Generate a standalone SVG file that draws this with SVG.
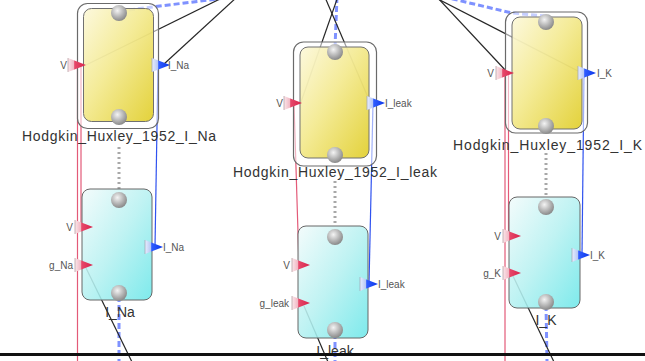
<svg xmlns="http://www.w3.org/2000/svg" xmlns:xlink="http://www.w3.org/1999/xlink" width="645" height="361" viewBox="0 0 645 361">
  <defs>
    <linearGradient id="gYellow" x1="0" y1="0" x2="1" y2="1">
      <stop offset="0" stop-color="#fcf8da"/>
      <stop offset="0.45" stop-color="#f3e98c"/>
      <stop offset="1" stop-color="#e0cd26"/>
    </linearGradient>
    <linearGradient id="gCyan" x1="0" y1="0" x2="1" y2="1">
      <stop offset="0" stop-color="#f2fbfb"/>
      <stop offset="0.5" stop-color="#b6f1f1"/>
      <stop offset="1" stop-color="#6ce7e9"/>
    </linearGradient>
    <radialGradient id="gBall" cx="0.4" cy="0.35" r="0.65">
      <stop offset="0" stop-color="#f4f4f4"/>
      <stop offset="0.6" stop-color="#b4b4b4"/>
      <stop offset="1" stop-color="#8a8a8a"/>
    </radialGradient>
    <linearGradient id="gPinRed" x1="0" y1="0" x2="1" y2="0">
      <stop offset="0" stop-color="#fbe6ea"/>
      <stop offset="0.32" stop-color="#f1b8c4"/>
      <stop offset="0.37" stop-color="#e6486a"/>
      <stop offset="1" stop-color="#d8224a"/>
    </linearGradient>
    <linearGradient id="gPinBlue" x1="0" y1="0" x2="1" y2="0">
      <stop offset="0" stop-color="#e8eeff"/>
      <stop offset="0.32" stop-color="#b8c8f4"/>
      <stop offset="0.37" stop-color="#2f5cff"/>
      <stop offset="1" stop-color="#0b36e8"/>
    </linearGradient>
    <g id="pin-red">
      <polygon points="0,-7 0,7 18,0" fill="url(#gPinRed)"/>
      <line x1="0" y1="-7" x2="0" y2="7" stroke="#b7a2a6" stroke-width="0.8"/>
    </g>
    <g id="pin-blue">
      <polygon points="0,-7 0,7 18,0" fill="url(#gPinBlue)"/>
      <line x1="0" y1="-7" x2="0" y2="7" stroke="#a2a8b8" stroke-width="0.8"/>
    </g>
  </defs>
  <style>
    .frame { fill: #ffffff; fill-opacity: 0.55; stroke: #6a6a6a; stroke-width: 1.2; }
    .yel { fill: url(#gYellow); fill-opacity: 0.9; stroke: #707070; stroke-width: 1; }
    .cyan { fill: url(#gCyan); fill-opacity: 0.88; stroke: #666; stroke-width: 1; }
    .ball { fill: url(#gBall); }
    .title { font-family: "Liberation Sans", Arial, sans-serif; font-size: 14px; fill: #333; }
    .pl { font-family: "Liberation Sans", Arial, sans-serif; font-size: 10px; fill: #555; }
    .end { text-anchor: end; }
    .mid { text-anchor: middle; }
    .red { stroke: #e35a78; stroke-width: 1.2; fill: none; }
    .blue { stroke: #2f52f0; stroke-width: 1.2; fill: none; }
    .black { stroke: #262626; stroke-width: 1.2; fill: none; }
    .enc { stroke: #7f92ff; stroke-width: 3; stroke-dasharray: 6 3; fill: none; }
    .dots { stroke: #a8a8a8; stroke-width: 3; stroke-dasharray: 2 3; fill: none; }
  </style>

  <rect width="645" height="361" fill="#ffffff"/>

  <g id="connectors">
    <!-- encapsulation (gray dotted) -->
    <line class="dots" x1="119" y1="147" x2="119" y2="190"/>
    <line class="dots" x1="335" y1="181" x2="335" y2="226"/>
    <line class="dots" x1="546" y1="153" x2="546" y2="197"/>
    <!-- blue dashed links -->
    <line class="enc" x1="120" y1="11" x2="225" y2="-2"/>
    <line class="enc" x1="335" y1="48" x2="337" y2="-3"/>
    <polyline class="enc" points="546,16 512,13 440,-4"/>
    <line class="enc" x1="119" y1="296" x2="119" y2="361"/>
    <line class="enc" x1="335" y1="333" x2="335" y2="361"/>
    <line class="enc" x1="546" y1="305" x2="547" y2="361"/>
    <!-- black links -->
    <line class="black" x1="86" y1="65" x2="226" y2="-4"/>
    <line class="black" x1="164" y1="64" x2="237" y2="-3"/>
    <line class="black" x1="301" y1="102" x2="338.5" y2="-5"/>
    <line class="black" x1="370" y1="102" x2="324" y2="-5"/>
    <line class="black" x1="507" y1="72" x2="436" y2="-4"/>
    <line class="black" x1="578" y1="71" x2="436" y2="-2"/>
    <line class="black" x1="86" y1="268" x2="132" y2="362"/>
    <line class="black" x1="304" y1="306" x2="328" y2="362"/>
    <line class="black" x1="513" y1="276" x2="554" y2="362"/>
    <!-- red links -->
    <line class="red" x1="77.5" y1="65" x2="77.5" y2="361"/>
    <line class="red" x1="81" y1="65" x2="81" y2="227"/>
    <line class="red" x1="294" y1="103" x2="299" y2="265"/>
    <line class="red" x1="505" y1="73" x2="505" y2="361"/>
    <line class="red" x1="508.5" y1="73" x2="508.5" y2="236"/>
    <!-- blue links -->
    <line class="blue" x1="158" y1="65" x2="155" y2="247"/>
    <line class="blue" x1="373" y1="103" x2="369" y2="284"/>
    <line class="blue" x1="584" y1="73" x2="582" y2="255"/>
  </g>

  <g id="hh-i-na">
    <rect class="frame" x="77.5" y="3.5" width="81" height="125" rx="10"/>
    <rect class="yel" x="83.5" y="8.5" width="70" height="113" rx="8"/>
    <circle class="ball" cx="119" cy="13" r="8"/>
    <circle class="ball" cx="119" cy="117" r="8"/>
    <use href="#pin-red" x="68" y="65"/>
    <use href="#pin-blue" x="152" y="65"/>
    <text class="pl end" x="67" y="68.5">V</text>
    <text class="pl" x="168" y="68.5">I_Na</text>
    <text class="title" x="22" y="141" textLength="194" lengthAdjust="spacing">Hodgkin_Huxley_1952_I_Na</text>
  </g>

  <g id="hh-i-leak">
    <rect class="frame" x="293.5" y="42" width="83" height="124" rx="10"/>
    <rect class="yel" x="300" y="47" width="69" height="111" rx="8"/>
    <circle class="ball" cx="335" cy="52" r="8"/>
    <circle class="ball" cx="335" cy="155" r="8"/>
    <use href="#pin-red" x="284" y="103"/>
    <use href="#pin-blue" x="367" y="103"/>
    <text class="pl end" x="283" y="106.5">V</text>
    <text class="pl" x="385" y="106.5">I_leak</text>
    <text class="title" x="233" y="177" textLength="204" lengthAdjust="spacing">Hodgkin_Huxley_1952_I_leak</text>
  </g>

  <g id="hh-i-k">
    <rect class="frame" x="505.5" y="12" width="82" height="121" rx="10"/>
    <rect class="yel" x="512" y="17" width="70" height="112" rx="8"/>
    <circle class="ball" cx="546" cy="22" r="8"/>
    <circle class="ball" cx="546" cy="126" r="8"/>
    <use href="#pin-red" x="496" y="73"/>
    <use href="#pin-blue" x="578" y="73"/>
    <text class="pl end" x="494" y="76.5">V</text>
    <text class="pl" x="597" y="76.5">I_K</text>
    <text class="title" x="453" y="150" textLength="189" lengthAdjust="spacing">Hodgkin_Huxley_1952_I_K</text>
  </g>

  <g id="i-na">
    <rect class="cyan" x="82" y="189" width="70" height="111" rx="8"/>
    <circle class="ball" cx="119" cy="200" r="8"/>
    <circle class="ball" cx="119" cy="293" r="8"/>
    <use href="#pin-red" x="75" y="227"/>
    <use href="#pin-red" x="75" y="265"/>
    <use href="#pin-blue" x="145" y="247"/>
    <text class="pl end" x="73" y="230.5">V</text>
    <text class="pl end" x="73" y="268.5">g_Na</text>
    <text class="pl" x="163" y="250.5">I_Na</text>
    <text class="title mid" x="120" y="317">I_Na</text>
  </g>

  <g id="i-leak">
    <rect class="cyan" x="298" y="226" width="70" height="112" rx="8"/>
    <circle class="ball" cx="335" cy="237" r="8"/>
    <circle class="ball" cx="335" cy="330" r="8"/>
    <use href="#pin-red" x="292" y="265"/>
    <use href="#pin-red" x="292" y="303"/>
    <use href="#pin-blue" x="360" y="284"/>
    <text class="pl end" x="290" y="268.5">V</text>
    <text class="pl end" x="289" y="306.5">g_leak</text>
    <text class="pl" x="378" y="287.5">I_leak</text>
    <text class="title mid" x="335" y="356">I_leak</text>
  </g>

  <g id="i-k">
    <rect class="cyan" x="509" y="197" width="71" height="111" rx="8"/>
    <circle class="ball" cx="546" cy="207" r="8"/>
    <circle class="ball" cx="546" cy="302" r="8"/>
    <use href="#pin-red" x="503" y="236"/>
    <use href="#pin-red" x="503" y="273"/>
    <use href="#pin-blue" x="572" y="255"/>
    <text class="pl end" x="501" y="239.5">V</text>
    <text class="pl end" x="501" y="276.5">g_K</text>
    <text class="pl" x="590" y="258.5">I_K</text>
    <text class="title mid" x="546" y="325">I_K</text>
  </g>

  <line x1="0" y1="354.5" x2="645" y2="354.5" stroke="#111" stroke-width="3"/>
</svg>
